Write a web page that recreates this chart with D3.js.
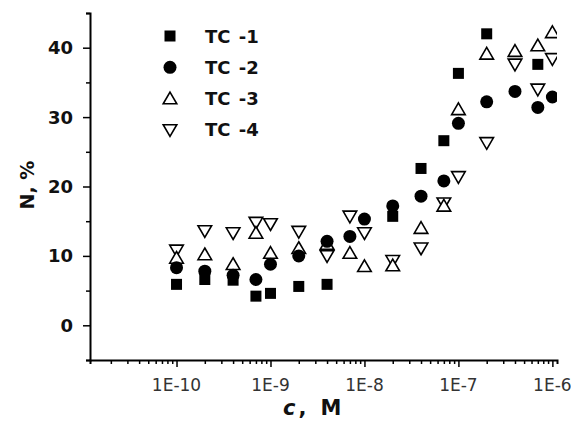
<!DOCTYPE html>
<html>
<head>
<meta charset="utf-8">
<script src="https://cdn.jsdelivr.net/npm/d3@7"></script>
<style>
  body { margin: 0; background: #fff; }
  svg { display: block; }
</style>
</head>
<body>
<svg id="chart" width="571" height="427"></svg>
<script>
// concentrations, M
let conc = [1e-10, 2e-10, 4e-10, 7e-10, 1e-9, 2e-9, 4e-9, 7e-9, 1e-8, 2e-8, 4e-8, 7e-8, 1e-7, 2e-7, 4e-7, 7e-7, 1e-6];

// null = point not visible in the picture
let tc1 = [5.9, 6.6, 6.5, 4.2, 4.6, 5.6, 5.9, null, null, 15.7, 22.6, 26.6, 36.3, 42.0, null, 37.6, null];
let tc2 = [8.3, 7.8, 7.2, 6.6, 8.8, 10.0, 12.1, 12.8, 15.3, 17.2, 18.6, 20.8, 29.1, 32.2, 33.7, 31.4, 32.9];
let tc3 = [9.7, 10.2, 8.8, 13.3, 10.4, 11.1, 11.7, 10.4, 8.5, 8.6, 14.0, 17.2, 31.1, 39.1, 39.5, 40.3, 42.2];
let tc4 = [10.8, 13.6, 13.3, 14.8, 14.6, 13.5, 10.0, 15.7, 13.3, 9.3, 11.1, 17.6, 21.4, 26.3, 37.6, 34.0, 38.4];

let seriesNames = ['TC -1', 'TC -2', 'TC -3', 'TC -4'];
let xTickLabels = ['1E-10', '1E-9', '1E-8', '1E-7', '1E-6'];
let yTicks = [0, 10, 20, 30, 40];

function init() {
    let svg = d3.select('#chart');
    let left = 90, right = 557, top = 13, bottom = 360;

    let x = d3.scaleLog().domain([1.2e-11, 1.12e-6]).range([left, right]);
    let y = d3.scaleLinear().domain([-5, 45]).range([bottom, top]);

    svg.append('defs').append('clipPath').attr('id', 'plotclip')
        .append('rect')
        .attr('x', left).attr('y', 0)
        .attr('width', right - left).attr('height', bottom);

    // symbols
    let shapes = [
        g => g.append('rect').attr('x', -5.5).attr('y', -5.5).attr('width', 11).attr('height', 11).attr('fill', '#000'),
        g => g.append('circle').attr('r', 6.5).attr('fill', '#000'),
        g => g.append('path').attr('d', 'M0,-6.5L6.8,5.2L-6.8,5.2Z').attr('fill', '#fff').attr('stroke', '#000').attr('stroke-width', 1.6),
        g => g.append('path').attr('d', 'M0,6.5L6.8,-5.2L-6.8,-5.2Z').attr('fill', '#fff').attr('stroke', '#000').attr('stroke-width', 1.6)
    ];

    let allSeries = [tc1, tc2, tc3, tc4];
    let plot = svg.append('g').attr('clip-path', 'url(#plotclip)');
    // open triangles first, filled marks on top like the picture
    [3, 2, 1, 0].forEach(si => {
        let pts = conc.map((c, i) => ({ c: c, v: allSeries[si][i] })).filter(d => d.v !== null);
        plot.selectAll('g.s' + si)
            .data(pts)
            .enter()
            .append('g')
            .attr('class', 's' + si)
            .attr('transform', d => `translate(${x(d.c)},${y(d.v)})`)
            .each(function () { shapes[si](d3.select(this)); });
    });

    // axes
    let xAxis = d3.axisBottom(x)
        .tickValues(d3.range(-11, -5).flatMap(e => d3.range(1, 10).map(m => m * Math.pow(10, e)))
            .filter(v => v >= 1.2e-11 && v <= 1.12e-6))
        .tickSize(4)
        .tickFormat('');
    let gx = svg.append('g').attr('transform', `translate(0,${bottom})`).call(xAxis);
    gx.selectAll('.tick line').attr('stroke', '#000').attr('stroke-width', 1.5)
        .attr('y2', d => Math.abs(Math.log10(d) - Math.round(Math.log10(d))) < 1e-6 ? 7 : 4);
    gx.select('.domain').attr('stroke', '#000').attr('stroke-width', 2);

    svg.append('g').selectAll('text')
        .data(xTickLabels)
        .enter()
        .append('text')
        .attr('x', d => x(+d))
        .attr('y', 391)
        .attr('text-anchor', 'middle')
        .attr('font-family', 'DejaVu Sans')
        .attr('font-size', 17)
        .attr('fill', '#333')
        .text(d => d);

    let yAxis = d3.axisLeft(y)
        .tickValues(d3.range(-5, 46, 5))
        .tickSize(4)
        .tickFormat('');
    let gy = svg.append('g').attr('transform', `translate(${left},0)`).call(yAxis);
    gy.selectAll('.tick line').attr('stroke', '#000').attr('stroke-width', 1.5)
        .attr('x2', d => d % 10 === 0 ? -7 : -4);
    gy.select('.domain').attr('stroke', '#000').attr('stroke-width', 2);

    svg.append('g').selectAll('text')
        .data(yTicks)
        .enter()
        .append('text')
        .attr('x', 73)
        .attr('y', d => y(d) + 6.5)
        .attr('text-anchor', 'end')
        .attr('font-family', 'DejaVu Sans')
        .attr('font-weight', 'bold')
        .attr('font-size', 18)
        .attr('fill', '#111')
        .text(d => d);

    // axis titles
    let xt = svg.append('text')
        .attr('x', 283).attr('y', 415)
        .attr('font-family', 'DejaVu Sans')
        .attr('font-weight', 'bold')
        .attr('font-size', 21)
        .attr('fill', '#111');
    xt.append('tspan').attr('font-style', 'italic').text('c');
    xt.append('tspan').attr('dx', 3).text(',');
    xt.append('tspan').attr('dx', 14).text('M');

    svg.append('text')
        .attr('transform', 'translate(34,185) rotate(-90)')
        .attr('text-anchor', 'middle')
        .attr('font-family', 'DejaVu Sans')
        .attr('font-weight', 'bold')
        .attr('font-size', 19)
        .attr('fill', '#111')
        .text('N, %');

    // legend
    let legend = svg.append('g');
    seriesNames.forEach((name, i) => {
        let ly = 36 + i * 31.3;
        shapes[i](legend.append('g').attr('transform', `translate(170,${ly})`));
        legend.append('text')
            .attr('x', 205).attr('y', ly + 6.5)
            .attr('font-family', 'DejaVu Sans')
            .attr('font-weight', 'bold')
            .attr('font-size', 18)
            .attr('word-spacing', 2)
            .attr('fill', '#111')
            .text(name);
    });
}

onload = function () {
    init();
};
</script>
</body>
</html>
